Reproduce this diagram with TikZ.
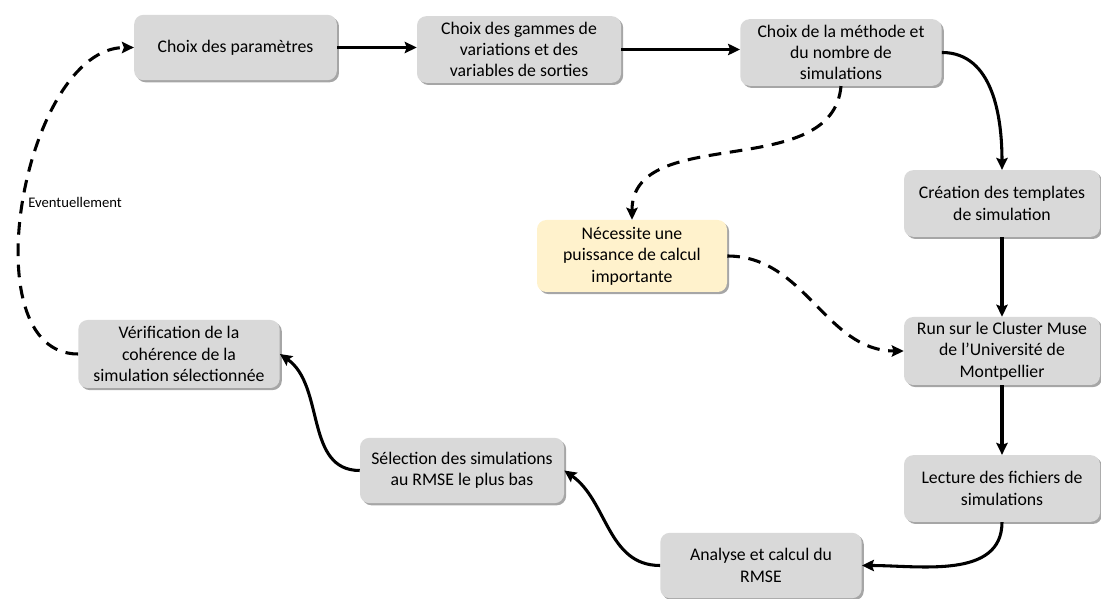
\documentclass[tikz,border=0pt]{standalone}
\usepackage{fontspec}
\setmainfont{Carlito}
\usetikzlibrary{arrows.meta,shadows}
\definecolor{boxgray}{RGB}{217,217,217}
\definecolor{boxyellow}{RGB}{255,242,204}
\tikzset{
  box/.style={rounded corners=7pt, fill=boxgray, minimum width=151pt, minimum height=50pt,
    align=center, inner sep=2pt, font=\fontsize{13.3}{16}\selectfont,
    drop shadow={shadow xshift=1.6pt, shadow yshift=-1.6pt, opacity=0.35, fill=black}},
  ybox/.style={box, fill=boxyellow},
  arr/.style={line width=2.3pt, -{Stealth[length=9pt,width=8.5pt,inset=1.5pt]}},
  darr/.style={arr, dash pattern=on 9.5pt off 6.5pt},
  lbl/.style={font=\fontsize{11}{13}\selectfont, anchor=west, inner sep=0pt}
}
\begin{document}
\begin{tikzpicture}[x=0.75pt,y=-0.75pt]
\useasboundingbox (0,0) rectangle (1101,599);
\node[box, minimum width=152pt, minimum height=49pt] (n1) at (235.5,47.5) {Choix des paramètres};
\node[box, minimum width=153pt] (n2) at (519,49.5) {Choix des gammes de\\variations et des\\variables de sorties};
\node[box, minimum width=151pt] (n3) at (841,52.5) {Choix de la méthode et\\du nombre de\\simulations};
\node[box, minimum width=147pt] (n4) at (1002,203.5) {Création des templates\\de simulation};
\node[ybox, minimum width=142.5pt, minimum height=54pt] (n5) at (632,256) {Nécessite une\\puissance de calcul\\importante};
\node[box, minimum width=147pt, minimum height=51pt] (n6) at (1002,351) {Run sur le Cluster Muse\\de l’Université de\\Montpellier};
\node[box, minimum width=147pt] (n7) at (1002,488.5) {Lecture des fichiers de\\simulations};
\node[box, minimum width=151pt, minimum height=49pt] (n8) at (761,565.5) {Analyse et calcul du\\RMSE};
\node[box, minimum width=153pt, minimum height=49pt] (n9) at (462,470.5) {Sélection des simulations\\au RMSE le plus bas};
\node[box, minimum width=151pt, minimum height=51pt] (n10) at (179,354) {Vérification de la\\cohérence de la\\simulation sélectionnée};
\node[lbl] (ev) at (28,202) {Eventuellement};

\draw[arr] (n1.east) -- (n1.east -| n2.west);
\draw[arr] (n2.east) -- (n2.east -| n3.west);
\draw[arr] (n3.east) to[out=0,in=90] (n4.north);
\draw[arr] (n4) -- (n6);
\draw[arr] (n6) -- (n7);
\draw[arr] (n7.south) to[out=-90,in=0] (n8.east);
\draw[arr] (n8.west) to[out=180,in=-35] (n9.east);
\draw[arr] (n9.west) to[out=180,in=-35] (n10.east);
\draw[darr] (n10.west) to[out=180,in=180,looseness=0.9] (n1.west);
\draw[darr] (n3.south) to[out=-95,in=90] (n5.north);
\draw[darr] (n5.east) to[out=0,in=180] (n6.west);
\end{tikzpicture}
\end{document}
